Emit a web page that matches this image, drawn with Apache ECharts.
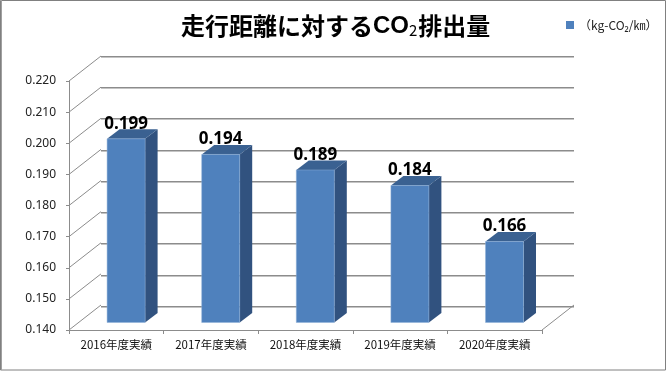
<!DOCTYPE html>
<html>
<head>
<meta charset="utf-8">
<style>html,body{margin:0;padding:0;background:#fff}#c{width:667px;height:371px}</style>
<script src="https://cdn.jsdelivr.net/npm/echarts@6/dist/echarts.min.js"></script>
</head>
<body>
<div id="c"></div>
<script>
const categories = ['2016年度実績','2017年度実績','2018年度実績','2019年度実績','2020年度実績'];
const values = [0.199,0.194,0.189,0.184,0.166];
const yTicks = [0.14,0.15,0.16,0.17,0.18,0.19,0.20,0.21,0.22];
const seriesName = '（kg-CO₂/㎞）';

const FONT = '"Noto Sans CJK JP","Noto Sans",sans-serif';
const LABEL_FONT = '"Noto Sans","Noto Sans CJK JP",sans-serif';
const GRID_COLOR = '#8c8c8c';
const DEPTH = {dx:32, dy:-25};
const BAR = {ox:9.8, oy:-7.5, w:38, sx:12.5, sy:-9.5};

const chart = echarts.init(document.getElementById('c'), null, {renderer:'canvas'});

function renderWall(params, api){
  const v = api.value(1);
  const y = api.coord([0, v])[1];
  const cs = params.coordSys;
  const stroke = {stroke:GRID_COLOR, lineWidth:1};
  const children = [{type:'line', shape:{x1:cs.x, y1:y, x2:cs.x+DEPTH.dx, y2:y+DEPTH.dy}, style:stroke}];
  if (params.dataIndex === 0) {
    children.push({type:'line', shape:{x1:cs.x+cs.width, y1:y, x2:cs.x+cs.width+DEPTH.dx, y2:y+DEPTH.dy}, style:stroke});
  }
  return {type:'group', children};
}

function renderBar(params, api){
  const i = api.value(0), v = api.value(1);
  const cx = api.coord([i, v])[0] + BAR.ox;
  const top = api.coord([i, v])[1] + BAR.oy;
  const bottom = api.coord([i, yTicks[0]])[1] + BAR.oy;
  const l = cx - BAR.w/2, r = cx + BAR.w/2;
  return {type:'group', children:[
    {type:'polygon', shape:{points:[[r,top],[r+BAR.sx,top+BAR.sy],[r+BAR.sx,bottom+BAR.sy],[r,bottom]]}, style:{fill:'#31527f'}},
    {type:'polygon', shape:{points:[[l,top],[l+BAR.sx,top+BAR.sy],[r+BAR.sx,top+BAR.sy],[r,top]]}, style:{fill:'#3a6191'}},
    {type:'rect', shape:{x:l, y:top, width:BAR.w, height:bottom-top}, style:{fill:'#4f81bd', stroke:'#8fb0d8', lineWidth:0.5}},
    {type:'text', x:cx, y:top-6.5, style:{text:v.toFixed(3), fill:'#000', font:'bold 17px '+LABEL_FONT, align:'center', verticalAlign:'bottom'}, z2:10}
  ]};
}

chart.setOption({
  animation:false,
  backgroundColor:'#fff',
  title:{
    text:'{m|走行距離に対する}{c|CO}{s|2}{m|排出量}',
    left:176, top:9,
    textStyle:{rich:{
      m:{fontFamily:FONT, fontWeight:'bold', fontSize:24, color:'#000'},
      c:{fontFamily:'"Liberation Sans",sans-serif', fontWeight:'bold', fontSize:24, color:'#000'},
      s:{fontFamily:FONT, fontWeight:'normal', fontSize:15, color:'#000', verticalAlign:'bottom', padding:[6,1,0,0]}
    }}
  },
  legend:{
    data:[{name:seriesName, icon:'rect'}],
    left:561, top:14, itemWidth:8, itemHeight:8, itemGap:0,
    textStyle:{fontFamily:FONT, fontSize:12, color:'#222'}
  },
  grid:[
    {left:69, top:81, width:473, height:249},
    {left:101, top:56, width:473, height:250}
  ],
  xAxis:[
    {type:'category', gridIndex:0, data:categories,
      axisLine:{lineStyle:{color:GRID_COLOR}},
      axisTick:{show:true, length:4, alignWithLabel:false, lineStyle:{color:GRID_COLOR}},
      axisLabel:{fontFamily:FONT, fontSize:11.5, color:'#111', margin:9, interval:0}},
    {type:'category', gridIndex:1, data:categories, show:false}
  ],
  yAxis:[
    {type:'value', gridIndex:0, min:0.14, max:0.22, interval:0.01,
      axisLine:{show:true, lineStyle:{color:GRID_COLOR}},
      axisTick:{show:true, length:3, lineStyle:{color:GRID_COLOR}},
      splitLine:{show:false},
      axisLabel:{fontFamily:LABEL_FONT, fontSize:12, color:'#222', margin:13, formatter:v=>v.toFixed(3)}},
    {type:'value', gridIndex:1, min:0.14, max:0.22, interval:0.01,
      axisLine:{show:false}, axisTick:{show:false}, axisLabel:{show:false},
      splitLine:{show:true, lineStyle:{color:GRID_COLOR, width:1, shadowColor:'#c4c4c4', shadowOffsetY:1, shadowBlur:0}}}
  ],
  series:[
    {type:'custom', name:'walls', xAxisIndex:0, yAxisIndex:0, clip:false, silent:true, z:1,
      renderItem:renderWall, data:yTicks.map(v=>[0,v])},
    {type:'custom', name:seriesName, xAxisIndex:0, yAxisIndex:0, clip:false, z:5,
      itemStyle:{color:'#4f81bd'},
      renderItem:renderBar, encode:{x:0,y:1}, data:values.map((v,i)=>[i,v])}
  ],
  graphic:[
    {type:'rect', silent:true, z:100, shape:{x:0.5, y:0.5, width:665, height:369.5}, style:{fill:'none', stroke:'#808080', lineWidth:1}},
    {type:'line', silent:true, z:100, shape:{x1:1.5,y1:0,x2:1.5,y2:370}, style:{stroke:'#a0a0a0', lineWidth:1}}
  ]
});
</script>
</body>
</html>
